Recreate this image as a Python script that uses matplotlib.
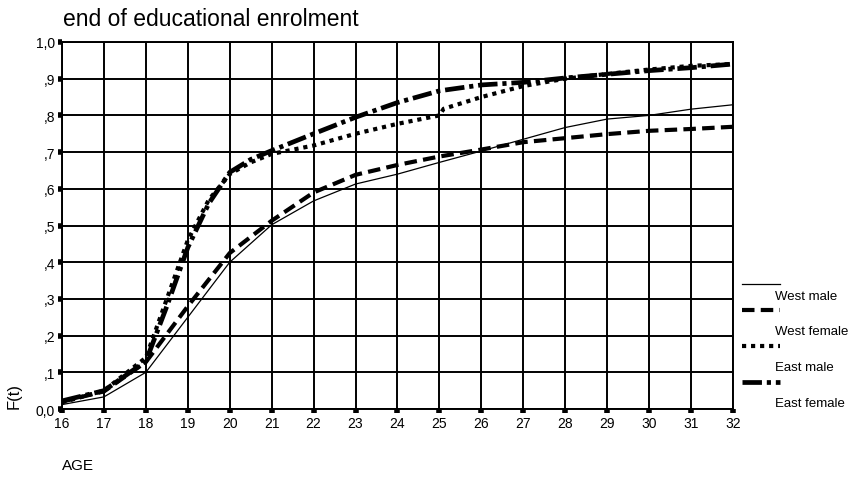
import matplotlib.pyplot as plt
from matplotlib.lines import Line2D

plt.rcParams['font.family'] = ['Liberation Sans', 'DejaVu Sans']
plt.rcParams['lines.scale_dashes'] = False

# West series, yearly
age_west = [16, 17, 18, 19, 20, 21, 22, 23, 24, 25, 26, 27, 28, 29, 30, 31, 32]
west_male = [0.012, 0.033, 0.10, 0.25, 0.40, 0.502, 0.567, 0.613, 0.64, 0.672, 0.703,
             0.735, 0.767, 0.79, 0.80, 0.817, 0.829]
west_female = [0.02, 0.048, 0.128, 0.28, 0.425, 0.513, 0.59, 0.638, 0.665, 0.688, 0.707,
               0.727, 0.738, 0.749, 0.758, 0.763, 0.769]

# East series
age_east_m = [16, 17, 18, 18.5, 19, 19.5, 20, 20.5, 21, 22, 23, 24, 25, 25.1,
              26, 27, 28, 29, 30, 31, 32]
east_male = [0.018, 0.05, 0.14, 0.30, 0.46, 0.57, 0.64, 0.672, 0.695, 0.718, 0.75, 0.777,
             0.80, 0.818, 0.85, 0.88, 0.90, 0.913, 0.925, 0.935, 0.94]
age_east_f = [16, 17, 18, 18.5, 19, 19.5, 20, 20.5, 21, 22, 23, 24, 25, 26, 27, 28, 29,
              30, 31, 32]
east_female = [0.022, 0.05, 0.13, 0.28, 0.44, 0.56, 0.645, 0.68, 0.704, 0.75, 0.795,
               0.835, 0.867, 0.883, 0.89, 0.902, 0.912, 0.922, 0.93, 0.94]

labels = ['West male', 'West female', 'East male', 'East female']
styles = [
    dict(lw=0.9, ls='-'),
    dict(lw=3.0, ls=(0, (9, 4.5)), dash_capstyle='butt'),
    dict(lw=3.0, ls=(0, (3, 3.5)), dash_capstyle='butt'),
    dict(lw=3.4, ls=(0, (14, 3.5, 3, 3.5)), dash_capstyle='butt'),
]

fig = plt.figure(figsize=(8.53, 4.81), dpi=100)
W, H = 853, 481
ax = fig.add_axes([62 / W, 1 - 410 / H, (733 - 62) / W, (410 - 43) / H])

series = [(age_west, west_male), (age_west, west_female),
          (age_east_m, east_male), (age_east_f, east_female)]
for (x, y), st in zip(series, styles):
    ax.plot(x, y, color='black', **st)

ax.set_xlim(16, 32)
ax.set_ylim(0, 1.0)
ax.set_xticks(range(16, 33))
yt = [i / 10 for i in range(11)]
ax.set_yticks(yt)
ax.set_yticklabels(['0,0', ',1', ',2', ',3', ',4', ',5', ',6', ',7', ',8', ',9', '1,0'])
ax.grid(True, color='black', lw=1.4)
ax.set_axisbelow(True)
for s in ax.spines.values():
    s.set_linewidth(1.4)
ax.tick_params(length=3, width=4, labelsize=10, pad=2)

fig.text(63 / W, 1 - 19 / H, 'end of educational enrolment', fontsize=16.5,
         va='center', ha='left')
fig.text(14 / W, 1 - 396 / H, 'F(t)', fontsize=12, rotation=90, va='center', ha='center')
fig.text(62 / W, 1 - 466 / H, 'AGE', fontsize=11, va='center', ha='left')

# legend: sample line above, label below
sample_y = [285, 311, 347, 383]
text_y = [297, 332, 368, 404]
for st, lab, sy, ty in zip(styles, labels, sample_y, text_y):
    fig.add_artist(Line2D([742 / W, 780 / W], [1 - sy / H, 1 - sy / H],
                          transform=fig.transFigure, color='black', **st))
    fig.text(775 / W, 1 - ty / H, lab, fontsize=9.5, va='center', ha='left')

fig.savefig('out.png', dpi=100)
